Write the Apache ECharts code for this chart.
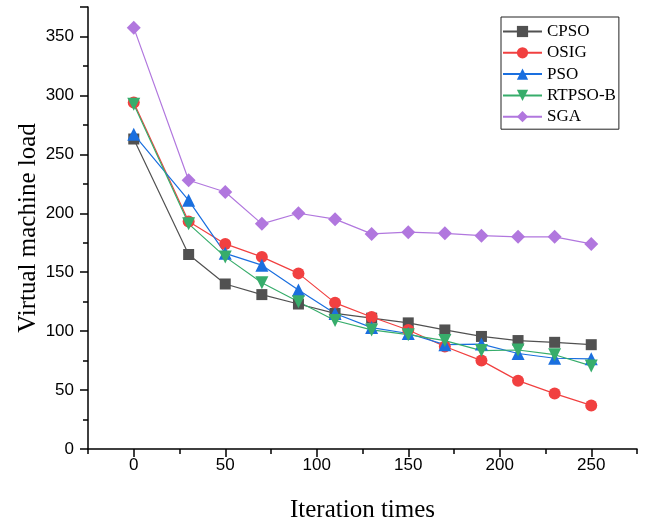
<!DOCTYPE html>
<html>
<head>
<meta charset="utf-8">
<script src="https://cdn.jsdelivr.net/npm/echarts@6/dist/echarts.min.js"></script>
<style>
  html, body { margin: 0; padding: 0; background: #fff; }
  #main { width: 645px; height: 525px; }
</style>
</head>
<body>
<div id="main"></div>
<script>
// iteration points on the x axis
var iterations = [0, 30, 50, 70, 90, 110, 130, 150, 170, 190, 210, 230, 250];
// labelled x ticks
var xTicks = [0, 50, 100, 150, 200, 250];

// virtual machine load per algorithm
var cpso   = [263, 165, 140, 131, 123, 115, 111, 107, 101, 95.5, 92, 90.5, 88.5];
var osig   = [294, 193, 174, 163, 149, 124, 112, 101, 87, 75, 58, 47, 37];
var pso    = [267, 211, 166, 156, 135, 115, 103, 98, 88.5, 89, 81, 77, 76.5];
var rtpsob = [292.5, 191, 163, 141, 125, 109, 101, 97, 92, 83.5, 84, 80, 70.5];
var sga    = [357.5, 228, 218, 191, 200, 195, 182.5, 184, 183, 181, 180, 180, 174];

var names = ['CPSO', 'OSIG', 'PSO', 'RTPSO-B', 'SGA'];

var chart = echarts.init(document.getElementById('main'));

function pairs(vals) {
    var out = [];
    for (var i = 0; i < iterations.length; i++) {
        out.push([iterations[i], vals[i]]);
    }
    return out;
}

function mkSeries(name, vals, color, symbol, size, rotate) {
    return {
        name: name,
        type: 'line',
        xAxisIndex: 0,
        data: pairs(vals),
        symbol: symbol,
        symbolSize: size,
        symbolRotate: rotate || 0,
        showAllSymbol: true,
        animation: false,
        lineStyle: { color: color, width: 1.2 },
        itemStyle: { color: color }
    };
}

var sansFont = 'Liberation Sans';
var serifFont = 'Liberation Serif';

var option = {
    animation: false,
    grid: {
        left: 88,
        right: 8,
        top: 7,
        bottom: 76,
        outerBoundsMode: 'none'
    },
    legend: {
        orient: 'vertical',
        left: 501,
        top: 17,
        padding: [6, 3, 4, 1],
        itemWidth: 39,
        itemHeight: 14,
        itemGap: 4.3,
        borderColor: '#222',
        borderWidth: 1,
        textStyle: { fontFamily: serifFont, fontSize: 17, color: '#000' },
        data: names
    },
    xAxis: [{
        type: 'value',
        min: -25,
        max: 275,
        interval: 25,
        name: 'Iteration times',
        nameLocation: 'middle',
        nameGap: 49,
        nameTextStyle: { fontFamily: serifFont, fontSize: 25, color: '#000' },
        axisLine: { onZero: false, lineStyle: { color: '#000', width: 1.5 } },
        axisTick: { show: true, length: 8, customValues: xTicks, lineStyle: { color: '#000', width: 1.5 } },
        axisLabel: {
            margin: 8,
            fontFamily: sansFont,
            fontSize: 17,
            color: '#000',
            customValues: xTicks
        },
        splitLine: { show: false }
    }, {
        // minor ticks between the labelled ones
        type: 'value',
        position: 'bottom',
        min: -25,
        max: 275,
        interval: 25,
        axisLine: { show: false, onZero: false },
        axisTick: { show: true, length: 5, lineStyle: { color: '#000', width: 1.5 } },
        axisLabel: { show: false },
        splitLine: { show: false }
    }],
    yAxis: {
        type: 'value',
        min: 0,
        max: 375,
        interval: 50,
        name: 'Virtual machine load',
        nameLocation: 'middle',
        nameGap: 47,
        nameMoveOverlap: false,
        nameTextStyle: { fontFamily: serifFont, fontSize: 25, color: '#000' },
        axisLine: { show: true, onZero: false, lineStyle: { color: '#000', width: 1.5 } },
        axisTick: { show: true, length: 8, lineStyle: { color: '#000', width: 1.5 } },
        minorTick: { show: true, splitNumber: 2, length: 5, lineStyle: { color: '#000', width: 1.5 } },
        axisLabel: {
            margin: 14,
            fontFamily: sansFont,
            fontSize: 17,
            color: '#000',
            showMaxLabel: false,
            formatter: function (v) { return v > 350 ? '' : v; }
        },
        splitLine: { show: false }
    },
    series: [
        mkSeries('CPSO', cpso, '#515151', 'rect', 11),
        mkSeries('OSIG', osig, '#F14040', 'circle', 12),
        mkSeries('PSO', pso, '#1A6FDF', 'triangle', 13),
        mkSeries('RTPSO-B', rtpsob, '#37AD6B', 'triangle', 13, 180),
        mkSeries('SGA', sga, '#B177DE', 'diamond', 14)
    ]
};

chart.setOption(option);
</script>
</body>
</html>
